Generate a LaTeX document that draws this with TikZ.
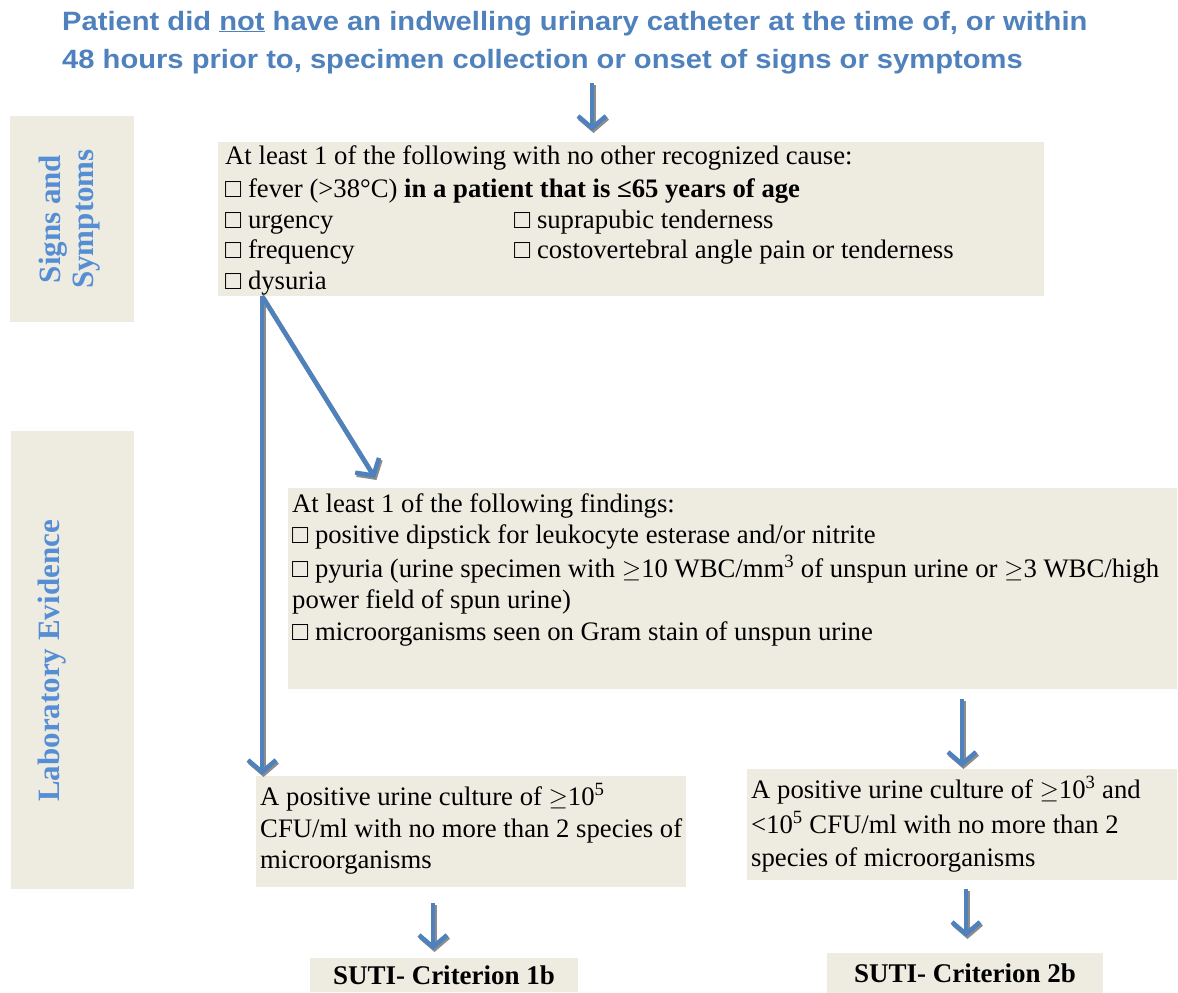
\documentclass[tikz,border=0pt]{standalone}
\usepackage{fontspec}
\setmainfont{Liberation Serif}
\newfontfamily\titlefont{Liberation Sans}[FakeStretch=1.1]
\usetikzlibrary{arrows.meta}
\definecolor{boxfill}{HTML}{EEECE1}
\definecolor{arrowblue}{HTML}{4F81BD}
\definecolor{titleblue}{HTML}{4F81BD}
\definecolor{sideblue}{HTML}{558ED5}
\definecolor{shadowgray}{HTML}{8C8C8C}
\begin{document}
\begin{tikzpicture}[x=1pt,y=-1pt,
  panel/.style={fill=boxfill, draw=none, inner sep=0pt, anchor=north west},
  txt/.style={anchor=base west, inner sep=0pt, font=\fontsize{26.7}{30}\selectfont},
  ttl/.style={anchor=base west, inner sep=0pt, text=titleblue, font=\titlefont\bfseries\fontsize{26.5}{30}\selectfont},
  side/.style={rotate=90, inner sep=0pt, text=sideblue, align=center, font=\bfseries\fontsize{31}{33}\selectfont},
  suti/.style={fill=boxfill, inner sep=0pt, font=\bfseries\fontsize{27}{30}\selectfont},
  flow/.style={draw=arrowblue, line width=4.5pt, -{Straight Barb[length=12pt,width=28pt]},
    preaction={draw=shadowgray, line width=4.5pt, transform canvas={shift={(1.5pt,-2pt)}}}}
]
\useasboundingbox (0,0) rectangle (1178,993);

% title
\node[ttl] (t1) at (62,30) {Patient did \underline{not} have an indwelling urinary catheter at the time of, or within};
\node[ttl] (t2) at (62,68) {48 hours prior to, specimen collection or onset of signs or symptoms};

% side panels
\node[panel, minimum width=124pt, minimum height=206pt] (ssbox) at (10,116) {};
\node[side] (sslab) at (70,219) {Signs and\\Symptoms};
\node[panel, minimum width=123pt, minimum height=458pt] (lebox) at (11,431) {};
\node[side] (lelab) at (52,661) {Laboratory Evidence};

% box 1: signs and symptoms
\node[panel, minimum width=826pt, minimum height=154pt] (b1) at (218,142) {};
\node[txt] (b1l1) at (225,164) {At least 1 of the following with no other recognized cause:};
\node[txt] (b1l2) at (225,197) {□ fever (>38°C) \textbf{in a patient that is ≤65 years of age}};
\node[txt] (b1l3) at (225,228) {□ urgency};
\node[txt] (b1l3b) at (514,228) {□ suprapubic tenderness};
\node[txt] (b1l4) at (225,258) {□ frequency};
\node[txt] (b1l4b) at (514,258) {□ costovertebral angle pain or tenderness};
\node[txt] (b1l5) at (225,289) {□ dysuria};

% box 2: laboratory findings
\node[panel, minimum width=889pt, minimum height=201pt] (b2) at (288,488) {};
\node[txt] (b2l1) at (292,512) {At least 1 of the following findings:};
\node[txt] (b2l2) at (292,543) {□ positive dipstick for leukocyte esterase and/or nitrite};
\node[txt] (b2l3) at (292,577) {□ pyuria (urine specimen with $\geq$10 WBC/mm\textsuperscript{3} of unspun urine or $\geq$3 WBC/high};
\node[txt] (b2l4) at (292,608) {power field of spun urine)};
\node[txt] (b2l5) at (292,640) {□ microorganisms seen on Gram stain of unspun urine};

% box 3: culture >= 10^5
\node[panel, minimum width=430pt, minimum height=111pt] (b3) at (256,776) {};
\node[txt] (b3l1) at (260,805) {A positive urine culture of $\geq$10\textsuperscript{5}};
\node[txt] (b3l2) at (260,837) {CFU/ml with no more than 2 species of};
\node[txt] (b3l3) at (260,868) {microorganisms};

% box 4: culture 10^3 - 10^5
\node[panel, minimum width=430pt, minimum height=111pt] (b4) at (747,769) {};
\node[txt] (b4l1) at (751,798) {A positive urine culture of $\geq$10\textsuperscript{3} and};
\node[txt] (b4l2) at (751,833) {<10\textsuperscript{5} CFU/ml with no more than 2};
\node[txt] (b4l3) at (751,866) {species of microorganisms};

% outcomes
\node[suti, minimum width=268pt, minimum height=34pt] (s1) at (444,975) {SUTI- Criterion 1b};
\node[suti, minimum width=276pt, minimum height=40pt] (s2) at (965,973) {SUTI- Criterion 2b};

% arrow end points
\coordinate (a0s) at (592,83);
\coordinate (a0e) at (592,131);
\coordinate (split) at (262,296);
\coordinate (a1e) at (262,775);
\coordinate (a2e) at (375,478);
\coordinate (a3s) at (962,699);
\coordinate (a3e) at (962,767);
\coordinate (a4s) at (433,903);
\coordinate (a4e) at (433,950);
\coordinate (a5s) at (966,889);
\coordinate (a5e) at (966,937);

\draw[flow] (a0s) -- (a0e);
\draw[flow] (split) -- (a1e);
\draw[flow] (split) -- (a2e);
\draw[flow] (a3s) -- (a3e);
\draw[flow] (a4s) -- (a4e);
\draw[flow] (a5s) -- (a5e);
\end{tikzpicture}
\end{document}
